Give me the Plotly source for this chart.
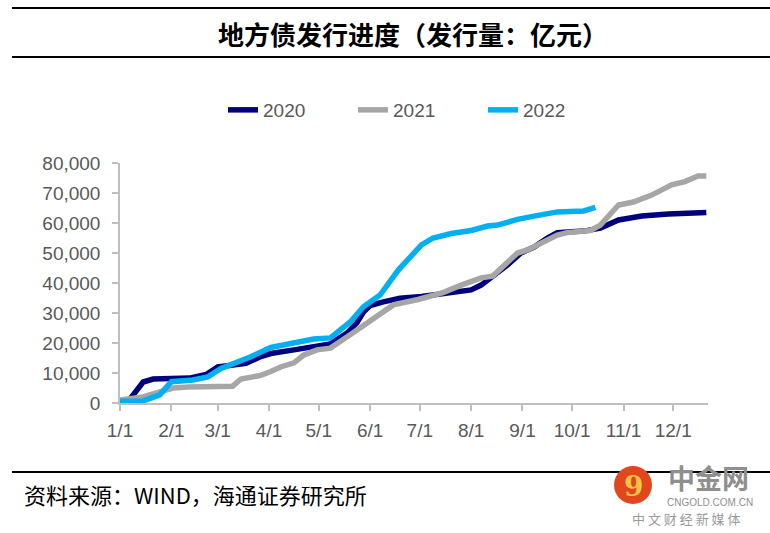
import plotly.graph_objects as go

# ---------------- data ----------------
dates_2020 = ["2021-01-01", "2021-01-06", "2021-01-07", "2021-01-15", "2021-01-21", "2021-02-12",
              "2021-02-22", "2021-03-01", "2021-03-12", "2021-03-18", "2021-03-27", "2021-04-02",
              "2021-04-16", "2021-04-28", "2021-05-08", "2021-05-18", "2021-05-24", "2021-05-28",
              "2021-06-01", "2021-06-09", "2021-06-19", "2021-07-02", "2021-07-15", "2021-08-01",
              "2021-08-07", "2021-08-15", "2021-08-23", "2021-08-31", "2021-09-08", "2021-09-16",
              "2021-09-22", "2021-10-08", "2021-10-18", "2021-10-29", "2021-11-12", "2021-11-28",
              "2021-12-21"]
vals_2020 = [500, 1000, 1300, 7000, 8000, 8300,
             9500, 12000, 13000, 13200, 15500, 16500,
             17700, 19000, 19700, 23300, 26700, 30300,
             32500, 33700, 34900, 35500, 36600, 37700,
             39300, 42700, 46000, 50000, 52000, 55000,
             56800, 57300, 58300, 61000, 62300, 63000,
             63500]

dates_2021 = ["2021-01-01", "2021-01-15", "2021-01-25", "2021-02-02", "2021-02-11", "2021-03-07",
              "2021-03-10", "2021-03-15", "2021-03-27", "2021-04-02", "2021-04-08", "2021-04-16",
              "2021-04-22", "2021-04-30", "2021-05-08", "2021-05-18", "2021-05-30", "2021-06-09",
              "2021-06-15", "2021-06-30", "2021-07-09", "2021-07-15", "2021-07-26", "2021-08-07",
              "2021-08-14", "2021-08-29", "2021-09-04", "2021-09-12", "2021-09-22", "2021-09-28",
              "2021-10-12", "2021-10-18", "2021-10-29", "2021-11-07", "2021-11-18", "2021-11-30",
              "2021-12-08", "2021-12-16", "2021-12-21"]
vals_2021 = [1000, 2000, 3700, 5000, 5300, 5300,
             5600, 8000, 9200, 10500, 12000, 13400,
             16000, 17700, 18300, 22000, 26700, 30400,
             32700, 34500, 36000, 36800, 39300, 41700,
             42300, 50000, 51000, 53300, 56000, 56800,
             57500, 59300, 66000, 67000, 69300, 72700,
             73800, 75700, 75700]

dates_2022 = ["2021-01-01", "2021-01-15", "2021-01-25", "2021-02-01", "2021-02-14", "2021-02-23",
              "2021-03-03", "2021-03-12", "2021-03-21", "2021-04-02", "2021-04-16", "2021-04-28",
              "2021-05-08", "2021-05-20", "2021-05-28", "2021-06-07", "2021-06-18", "2021-07-02",
              "2021-07-09", "2021-07-20", "2021-08-01", "2021-08-11", "2021-08-17", "2021-08-29",
              "2021-09-08", "2021-09-22", "2021-10-08", "2021-10-15"]
vals_2022 = [600, 700, 2700, 7100, 7700, 8700,
             11500, 13300, 15400, 18500, 20000, 21300,
             21700, 27000, 32100, 36000, 44300, 52700,
             55000, 56500, 57500, 59000, 59300, 61200,
             62300, 63700, 64000, 65200]

series_names = ["2020", "2021", "2022"]
series_colors = ["#00007E", "#A6A6A6", "#00B0F0"]

title_text = "地方债发行进度（发行量：亿元）"
source_text = "资料来源：WIND，海通证券研究所"

# ---------------- figure ----------------
W, H = 770, 533
L, R, T, B = 120, 62, 163, 130
PW, PH = W - L - R, H - T - B


def px(xp):
    return (xp - L) / PW


def py(yp):
    return (H - B - yp) / PH


fig = go.Figure()
for name, xs, ys, col in zip(series_names, [dates_2020, dates_2021, dates_2022],
                             [vals_2020, vals_2021, vals_2022], series_colors):
    fig.add_trace(go.Scatter(x=xs, y=ys, name=name, mode="lines",
                             line=dict(color=col, width=5.5)))

axis_font = dict(family="Liberation Sans, Arial, sans-serif", size=19, color="#595959")

fig.update_layout(
    width=W, height=H, autosize=False,
    margin=dict(l=L, r=R, t=T, b=B),
    paper_bgcolor="white", plot_bgcolor="white",
    showlegend=True,
    legend=dict(orientation="h", xref="container", yref="container",
                x=223 / W, xanchor="left", y=1 - 110 / H, yanchor="middle",
                font=dict(family="Liberation Sans, Arial, sans-serif", size=19, color="#595959"),
                entrywidth=85, entrywidthmode="pixels", bgcolor="rgba(0,0,0,0)"),
    xaxis=dict(type="date", range=["2021-01-01", "2021-12-22"],
               tick0="2021-01-01", dtick="M1", tickformat="%-m/%-d",
               showline=True, linecolor="#BFBFBF", linewidth=1.5,
               ticks="outside", ticklen=6, tickcolor="#BFBFBF", tickwidth=1.5,
               showgrid=False, zeroline=False, tickfont=axis_font,
               ticklabelstandoff=3),
    yaxis=dict(range=[0, 80000], tickvals=list(range(0, 80001, 10000)),
               tickformat=",d",
               showline=True, linecolor="#BFBFBF", linewidth=1.5,
               ticks="outside", ticklen=6, tickcolor="#BFBFBF", tickwidth=1.5,
               showgrid=False, zeroline=False, tickfont=axis_font,
               ticklabelstandoff=8),
)

# header / footer rules
for yline in (8, 57, 472):
    fig.add_shape(type="line", xref="paper", yref="paper",
                  x0=px(12), x1=px(770), y0=py(yline), y1=py(yline),
                  line=dict(color="black", width=2.2), layer="above")

fig.add_annotation(text="<b>" + title_text + "</b>", xref="paper", yref="paper",
                   x=px(413), y=py(34), xanchor="center", yanchor="middle", showarrow=False,
                   font=dict(family="Noto Sans CJK SC", size=26, color="black"))

fig.add_annotation(text=source_text, xref="paper", yref="paper",
                   x=px(22), y=py(494), xanchor="left", yanchor="middle", showarrow=False,
                   font=dict(family="Noto Sans CJK SC", size=22, color="black"))

# watermark logo
fig.add_shape(type="circle", xref="paper", yref="paper",
              x0=px(614), x1=px(652), y0=py(504), y1=py(466),
              fillcolor="#E2461C", line=dict(color="#E2461C", width=0), layer="above")
fig.add_annotation(text="<b>9</b>", xref="paper", yref="paper", x=px(633), y=py(486),
                   showarrow=False, xanchor="center", yanchor="middle",
                   font=dict(family="DejaVu Serif", size=28, color="#F6C344"))
fig.add_annotation(text="<b>中金网</b>", xref="paper", yref="paper", x=px(708), y=py(477),
                   showarrow=False, xanchor="center", yanchor="middle",
                   font=dict(family="Noto Sans CJK SC", size=27, color="#8F8F8F"))
fig.add_annotation(text="CNGOLD.COM.CN", xref="paper", yref="paper", x=px(710), y=py(502),
                   showarrow=False, xanchor="center", yanchor="middle",
                   font=dict(family="Liberation Sans, Arial", size=10, color="#8F8F8F"))
fig.add_annotation(text="中 文 财 经 新 媒 体", xref="paper", yref="paper", x=px(686), y=py(518),
                   showarrow=False, xanchor="center", yanchor="middle",
                   font=dict(family="Noto Sans CJK SC", size=13, color="#9A9A9A"))

fig.write_html("out.html", config={"displayModeBar": False},
               post_script="document.body.style.margin='0';")
